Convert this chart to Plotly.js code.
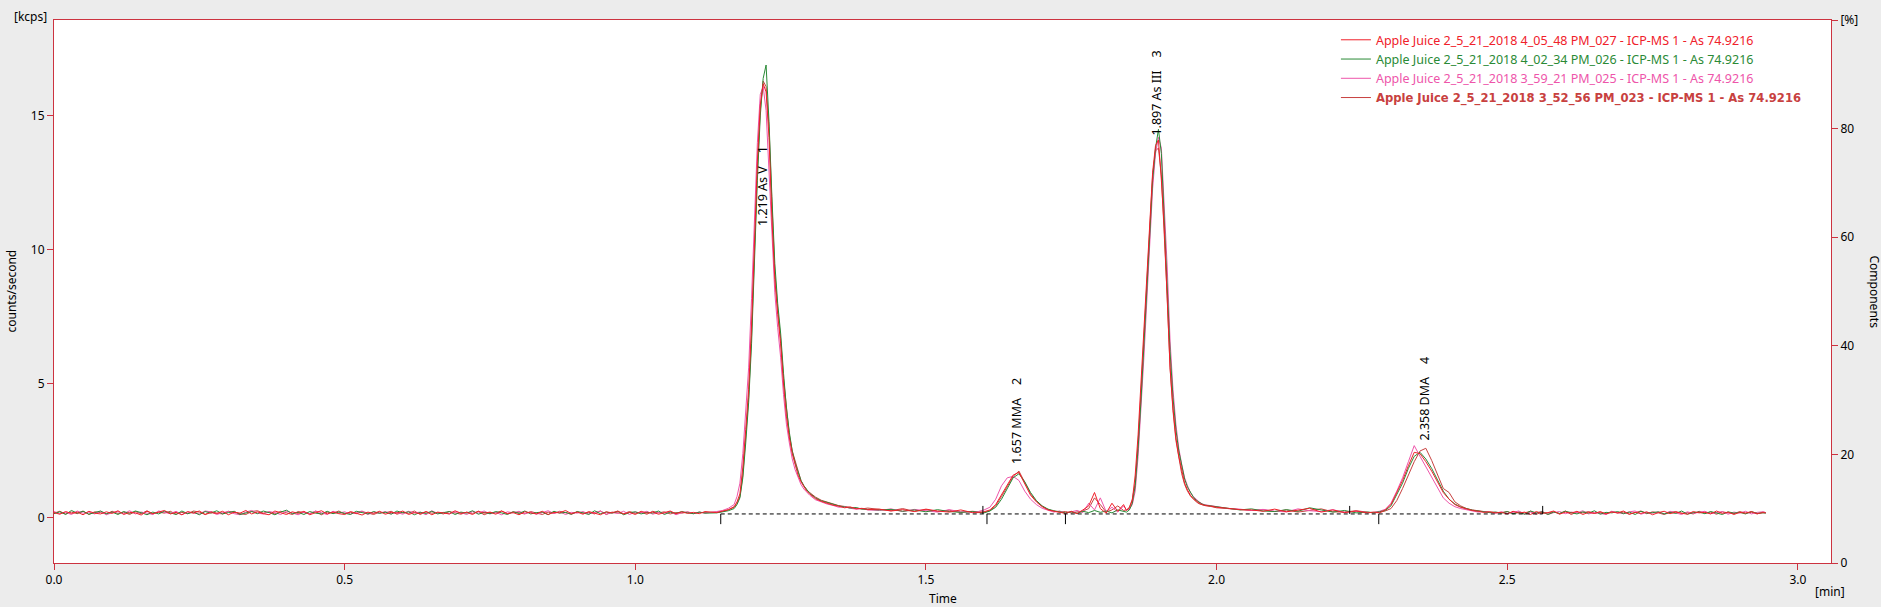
<!DOCTYPE html>
<html>
<head>
<meta charset="utf-8">
<script src="https://cdn.plot.ly/plotly-3.0.1.min.js"></script>
<style>
html,body{margin:0;padding:0;background:#ececec;}
#chart{width:1881px;height:607px;}
</style>
</head>
<body>
<div id="chart"></div>
<script>
// ---- time axis (min) ----
const time = [
0.00,0.01,0.02,0.03,0.04,0.05,0.06,0.07,0.08,0.09,
0.10,0.11,0.12,0.13,0.14,0.15,0.16,0.17,0.18,0.19,
0.20,0.21,0.22,0.23,0.24,0.25,0.26,0.27,0.28,0.29,
0.30,0.31,0.32,0.33,0.34,0.35,0.36,0.37,0.38,0.39,
0.40,0.41,0.42,0.43,0.44,0.45,0.46,0.47,0.48,0.49,
0.50,0.51,0.52,0.53,0.54,0.55,0.56,0.57,0.58,0.59,
0.60,0.61,0.62,0.63,0.64,0.65,0.66,0.67,0.68,0.69,
0.70,0.71,0.72,0.73,0.74,0.75,0.76,0.77,0.78,0.79,
0.80,0.81,0.82,0.83,0.84,0.85,0.86,0.87,0.88,0.89,
0.90,0.91,0.92,0.93,0.94,0.95,0.96,0.97,0.98,0.99,
1.00,1.01,1.02,1.03,1.04,1.05,1.06,1.07,1.08,1.09,
1.10,1.11,1.12,
1.14,1.15,1.16,1.17,
1.175,1.18,1.185,1.19,1.195,1.20,1.205,1.21,1.215,1.22,
1.225,1.23,1.235,1.24,1.245,1.25,1.255,1.26,1.265,1.27,
1.275,1.28,1.285,1.29,1.295,1.30,
1.31,1.32,1.33,1.34,1.35,1.36,1.37,1.38,1.39,1.40,
1.42,1.44,1.46,1.48,1.50,1.52,1.54,1.56,1.58,
1.59,1.60,1.61,1.62,1.63,1.64,1.65,1.66,1.67,1.68,
1.69,1.70,1.71,1.72,1.73,1.74,1.75,1.76,1.77,1.78,
1.79,1.80,1.81,1.82,1.83,1.84,
1.845,1.85,1.855,1.86,1.865,1.87,1.875,1.88,1.885,1.89,
1.895,1.90,1.905,1.91,1.915,1.92,1.925,1.93,1.935,1.94,
1.945,1.95,1.955,1.96,1.965,1.97,1.975,1.98,
1.99,2.00,2.02,2.04,2.06,2.08,2.10,2.12,2.14,2.16,
2.18,2.20,2.22,2.24,2.26,
2.27,2.28,2.29,2.30,2.31,2.32,2.33,2.34,2.35,2.36,
2.37,2.38,2.39,2.40,2.41,2.42,2.43,2.44,2.45,2.46,
2.47,2.48,
2.49,2.50,2.51,2.52,2.53,2.54,2.55,2.56,2.57,2.58,
2.59,2.60,2.61,2.62,2.63,2.64,2.65,2.66,2.67,2.68,
2.69,2.70,2.71,2.72,2.73,2.74,2.75,2.76,2.77,2.78,
2.79,2.80,2.81,2.82,2.83,2.84,2.85,2.86,2.87,2.88,
2.89,2.90,2.91,2.92,2.93,2.94,
2.945
];

// ---- counts/second [kcps] ----
const run027 = [
0.20,0.14,0.24,0.17,0.22,0.12,0.25,0.18,0.15,0.23,
0.17,0.27,0.13,0.21,0.19,0.11,0.25,0.16,0.22,0.28,
0.15,0.21,0.12,0.24,0.18,0.26,0.13,0.20,0.17,0.25,
0.12,0.22,0.18,0.28,0.15,0.23,0.16,0.12,0.26,0.19,
0.13,0.23,0.17,0.25,0.12,0.20,0.27,0.15,0.22,0.16,
0.13,0.24,0.18,0.11,0.22,0.17,0.25,0.14,0.21,0.18,
0.26,0.13,0.20,0.16,0.24,0.12,0.22,0.19,0.15,0.27,
0.17,0.21,0.13,0.25,0.18,0.22,0.14,0.26,0.16,0.20,
0.12,0.23,0.18,0.15,0.25,0.13,0.21,0.19,0.28,0.16,
0.22,0.14,0.24,0.17,0.12,0.23,0.19,0.26,0.15,0.21,
0.13,0.25,0.18,0.22,0.14,0.20,0.26,0.16,0.23,0.17,
0.21,0.16,0.24,
0.20,0.26,0.31,0.42,
0.60,0.90,1.90,3.30,4.80,7.20,10.3,13.3,15.4,16.2,
15.9,14.2,11.2,8.90,7.60,6.50,5.00,3.80,3.00,2.40,
2.00,1.60,1.35,1.15,1.00,0.90,
0.72,0.62,0.55,0.48,0.44,0.38,0.41,0.34,0.36,0.31,
0.33,0.26,0.31,0.24,0.33,0.26,0.22,0.30,0.20,
0.20,0.23,0.30,0.50,0.85,1.25,1.60,1.70,1.25,0.85,
0.60,0.42,0.30,0.26,0.21,0.17,0.25,0.16,0.30,0.45,
0.95,0.35,0.18,0.55,0.25,0.50,
0.28,0.38,0.65,1.60,3.10,5.00,6.80,8.80,10.9,12.9,
13.9,14.1,12.6,10.8,8.20,5.60,4.10,3.00,2.30,1.75,
1.30,1.05,0.85,0.72,0.62,0.55,0.50,0.47,
0.44,0.40,0.36,0.31,0.30,0.25,0.33,0.23,0.29,0.36,
0.22,0.30,0.20,0.26,0.19,
0.22,0.19,0.30,0.50,0.95,1.40,1.95,2.45,2.40,2.10,
1.75,1.35,0.95,0.70,0.50,0.40,0.33,0.28,0.25,0.21,
0.23,0.19,
0.21,0.15,0.25,0.18,0.22,0.13,0.24,0.17,0.20,0.26,
0.14,0.22,0.18,0.25,0.13,0.21,0.17,0.24,0.15,0.22,
0.19,0.26,0.14,0.21,0.17,0.23,0.12,0.20,0.25,0.16,
0.22,0.18,0.14,0.24,0.19,0.21,0.15,0.26,0.17,0.22,
0.13,0.21,0.18,0.24,0.16,0.20,
0.19
];

const run026 = [
0.16,0.23,0.13,0.28,0.18,0.25,0.14,0.21,0.26,0.16,
0.22,0.13,0.24,0.17,0.26,0.20,0.12,0.22,0.15,0.25,
0.18,0.13,0.26,0.16,0.22,0.12,0.24,0.18,0.27,0.15,
0.20,0.25,0.13,0.18,0.24,0.16,0.26,0.20,0.12,0.22,
0.29,0.16,0.21,0.13,0.24,0.18,0.15,0.25,0.16,0.22,
0.18,0.13,0.25,0.20,0.15,0.24,0.17,0.22,0.14,0.26,
0.19,0.23,0.12,0.21,0.17,0.25,0.15,0.20,0.24,0.13,
0.22,0.18,0.27,0.14,0.21,0.16,0.24,0.19,0.13,0.23,
0.17,0.26,0.15,0.20,0.22,0.12,0.25,0.18,0.21,0.14,
0.24,0.19,0.13,0.27,0.16,0.22,0.18,0.25,0.12,0.20,
0.23,0.15,0.21,0.18,0.26,0.13,0.22,0.17,0.24,0.19,
0.16,0.22,0.18,
0.19,0.22,0.27,0.35,
0.50,0.75,1.50,2.80,4.30,6.50,9.60,12.6,15.0,16.4,
16.9,14.8,12.0,9.50,8.00,6.90,5.40,4.10,3.20,2.50,
2.05,1.70,1.40,1.20,1.05,0.92,
0.75,0.64,0.58,0.50,0.45,0.41,0.37,0.39,0.33,0.32,
0.30,0.32,0.25,0.30,0.23,0.31,0.24,0.21,0.24,
0.21,0.19,0.26,0.40,0.70,1.10,1.50,1.65,1.35,0.95,
0.65,0.45,0.33,0.27,0.23,0.19,0.23,0.17,0.25,0.20,
0.28,0.21,0.26,0.19,0.30,0.24,
0.22,0.30,0.55,1.20,2.60,4.40,6.50,8.50,10.5,12.6,
13.8,14.5,13.6,11.3,9.00,6.20,4.50,3.30,2.50,1.90,
1.45,1.15,0.95,0.78,0.66,0.58,0.52,0.48,
0.45,0.41,0.37,0.30,0.34,0.26,0.24,0.31,0.25,0.38,
0.30,0.22,0.28,0.19,0.22,
0.20,0.23,0.28,0.45,0.85,1.30,1.85,2.30,2.45,2.20,
1.85,1.40,1.00,0.70,0.52,0.41,0.34,0.29,0.26,0.23,
0.20,0.22,
0.18,0.24,0.16,0.21,0.14,0.26,0.19,0.23,0.13,0.22,
0.17,0.25,0.20,0.15,0.23,0.18,0.27,0.14,0.21,0.19,
0.24,0.16,0.22,0.13,0.25,0.18,0.20,0.23,0.15,0.21,
0.17,0.26,0.14,0.20,0.22,0.16,0.24,0.19,0.13,0.23,
0.18,0.21,0.15,0.24,0.17,0.19,
0.18
];

const run025 = [
0.24,0.16,0.21,0.13,0.26,0.18,0.22,0.15,0.25,0.12,
0.20,0.24,0.16,0.27,0.15,0.22,0.18,0.13,0.26,0.20,
0.16,0.25,0.12,0.22,0.18,0.15,0.26,0.23,0.13,0.20,
0.24,0.16,0.12,0.22,0.28,0.18,0.15,0.24,0.20,0.13,
0.25,0.18,0.12,0.22,0.16,0.26,0.20,0.13,0.25,0.18,
0.23,0.15,0.20,0.26,0.13,0.22,0.18,0.24,0.16,0.21,
0.14,0.25,0.19,0.22,0.12,0.27,0.17,0.21,0.15,0.23,
0.20,0.13,0.24,0.18,0.26,0.15,0.21,0.12,0.23,0.19,
0.25,0.16,0.22,0.14,0.20,0.27,0.17,0.23,0.13,0.21,
0.18,0.24,0.15,0.21,0.26,0.14,0.20,0.17,0.25,0.13,
0.22,0.19,0.25,0.14,0.21,0.17,0.24,0.12,0.20,0.23,
0.17,0.22,0.18,
0.24,0.28,0.36,0.50,
0.80,1.30,2.40,3.90,5.60,8.20,11.2,14.0,15.8,16.1,
15.2,13.0,10.4,8.40,7.10,6.00,4.60,3.50,2.80,2.20,
1.80,1.50,1.25,1.08,0.95,0.85,
0.68,0.60,0.52,0.47,0.40,0.42,0.36,0.33,0.35,0.30,
0.28,0.34,0.24,0.32,0.27,0.22,0.31,0.23,0.22,
0.24,0.30,0.40,0.70,1.20,1.50,1.55,1.40,1.00,0.70,
0.50,0.36,0.28,0.22,0.26,0.18,0.23,0.28,0.20,0.55,
0.30,0.75,0.24,0.40,0.22,0.45,
0.30,0.33,0.50,1.00,2.30,4.00,6.00,8.10,10.2,12.3,
13.6,14.2,13.8,11.8,9.40,6.60,4.80,3.50,2.60,2.00,
1.50,1.20,0.95,0.80,0.68,0.60,0.53,0.49,
0.46,0.42,0.35,0.33,0.28,0.32,0.25,0.23,0.34,0.27,
0.24,0.31,0.21,0.25,0.20,
0.21,0.25,0.32,0.55,1.00,1.50,2.10,2.70,2.30,1.90,
1.50,1.10,0.75,0.55,0.42,0.35,0.30,0.26,0.22,0.24,
0.21,0.18,
0.23,0.17,0.21,0.26,0.14,0.22,0.18,0.25,0.13,0.20,
0.24,0.16,0.22,0.19,0.27,0.15,0.21,0.18,0.13,0.24,
0.20,0.16,0.23,0.26,0.14,0.21,0.18,0.22,0.15,0.25,
0.19,0.13,0.23,0.17,0.21,0.25,0.16,0.20,0.24,0.14,
0.22,0.18,0.25,0.15,0.21,0.23,
0.20
];

const run023 = [
0.18,0.25,0.15,0.22,0.16,0.26,0.13,0.23,0.20,0.15,
0.25,0.17,0.22,0.13,0.24,0.16,0.27,0.15,0.22,0.18,
0.25,0.14,0.21,0.16,0.26,0.22,0.13,0.24,0.18,0.15,
0.25,0.20,0.16,0.13,0.24,0.27,0.18,0.22,0.15,0.25,
0.18,0.13,0.24,0.20,0.16,0.25,0.12,0.22,0.18,0.26,
0.15,0.21,0.16,0.24,0.18,0.13,0.22,0.19,0.25,0.14,
0.21,0.17,0.26,0.13,0.23,0.18,0.20,0.15,0.24,0.19,
0.14,0.22,0.17,0.25,0.12,0.21,0.19,0.26,0.16,0.23,
0.20,0.15,0.24,0.18,0.13,0.22,0.17,0.25,0.19,0.14,
0.23,0.18,0.21,0.15,0.26,0.13,0.22,0.20,0.16,0.24,
0.17,0.21,0.14,0.25,0.19,0.23,0.15,0.20,0.18,0.22,
0.16,0.21,0.20,
0.22,0.24,0.30,0.40,
0.55,0.80,1.60,3.00,4.50,6.80,9.90,13.0,15.2,16.3,
16.1,14.6,11.8,9.20,7.80,6.70,5.20,4.00,3.10,2.50,
2.10,1.70,1.40,1.20,1.05,0.95,
0.78,0.66,0.60,0.52,0.46,0.43,0.39,0.36,0.34,0.37,
0.32,0.27,0.35,0.25,0.31,0.24,0.29,0.21,0.25,
0.22,0.21,0.27,0.45,0.80,1.20,1.55,1.75,1.30,0.90,
0.62,0.44,0.32,0.25,0.22,0.24,0.19,0.23,0.26,0.35,
0.75,0.50,0.22,0.30,0.45,0.28,
0.30,0.40,0.70,1.30,2.80,4.70,6.80,8.80,10.7,12.8,
13.7,13.8,12.8,10.6,8.30,5.60,4.00,2.90,2.20,1.65,
1.25,1.00,0.82,0.70,0.60,0.53,0.49,0.46,
0.43,0.38,0.35,0.31,0.28,0.31,0.24,0.30,0.22,0.28,
0.34,0.23,0.22,0.27,0.20,
0.19,0.21,0.26,0.35,0.65,1.10,1.60,2.10,2.50,2.60,
2.15,1.65,1.10,0.95,0.60,0.45,0.35,0.30,0.26,0.24,
0.22,0.20,
0.20,0.24,0.16,0.22,0.19,0.25,0.14,0.21,0.18,0.23,
0.16,0.26,0.13,0.22,0.19,0.24,0.17,0.21,0.15,0.25,
0.18,0.22,0.14,0.20,0.26,0.16,0.23,0.19,0.13,0.21,
0.24,0.17,0.20,0.15,0.25,0.18,0.22,0.14,0.23,0.19,
0.16,0.24,0.18,0.21,0.15,0.22,
0.20
];

const seriesNames = [
  "Apple Juice 2_5_21_2018 4_05_48 PM_027 - ICP-MS 1 - As 74.9216",
  "Apple Juice 2_5_21_2018 4_02_34 PM_026 - ICP-MS 1 - As 74.9216",
  "Apple Juice 2_5_21_2018 3_59_21 PM_025 - ICP-MS 1 - As 74.9216",
  "Apple Juice 2_5_21_2018 3_52_56 PM_023 - ICP-MS 1 - As 74.9216"
];

// ---- peak labels ----
const peakTimes = [1.219, 1.657, 1.897, 2.358];
const peakNames = ["As V", "MMA", "As III", "DMA"];
const peakNumbers = ["1", "2", "3", "4"];
const peakLabelBase = [10.8, 1.95, 14.2, 2.8];

// ---- integration baseline & markers ----
const baselineLevel = 0.15;
const baselineStart = 1.147;
const baselineEnd = 2.561;
const markersDown = [1.147, 1.605, 1.740, 2.279];
const markersUp = [1.598, 2.229, 2.561];

// ---- axis ticks ----
const xTicks = [0.0, 0.5, 1.0, 1.5, 2.0, 2.5, 3.0];
const yTicks = [0, 5, 10, 15];
const y2Ticks = [0, 20, 40, 60, 80, 100];
const y2TickText = ["0", "20", "40", "60", "80", "[%]"];

// ---------------------------------------------------------------
const FRAME = "#cc3340";
const FONT = "Noto Sans, Liberation Sans, sans-serif";
const colors = ["#f0202a", "#2a8a36", "#ee55aa", "#c8413f"];
const values = [run027, run026, run025, run023];

const traces = [];
// draw order: 023 first, 027 on top
for (let i = 3; i >= 0; i--) {
  const label = i === 3
    ? '<span style="color:' + colors[i] + ';font-family:DejaVu Sans;font-size:11.6px;font-weight:bold">' + seriesNames[i] + '</span>'
    : '<span style="color:' + colors[i] + '">' + seriesNames[i] + '</span>';
  traces.push({
    type: "scatter", mode: "lines",
    x: time, y: values[i],
    name: label,
    line: { color: colors[i], width: 1 },
    hoverinfo: "x+y"
  });
}

// integration baseline
traces.push({
  type: "scatter", mode: "lines",
  x: [baselineStart, baselineEnd], y: [baselineLevel, baselineLevel],
  line: { color: "#000", width: 1, dash: "4px,3px" },
  showlegend: false, hoverinfo: "skip"
});
const DOWN = 0.38, UP = 0.30;
const mx = [], my = [];
markersDown.forEach(t => { mx.push(t, t, null); my.push(baselineLevel, baselineLevel - DOWN, null); });
markersUp.forEach(t => { mx.push(t, t, null); my.push(baselineLevel, baselineLevel + UP, null); });
traces.push({
  type: "scatter", mode: "lines", x: mx, y: my,
  line: { color: "#000", width: 1 }, showlegend: false, hoverinfo: "skip"
});

const annotations = [];
const NB = "\u00a0";
for (let i = 0; i < peakTimes.length; i++) {
  annotations.push({
    x: peakTimes[i], y: peakLabelBase[i], xref: "x", yref: "y",
    text: peakTimes[i].toFixed(3) + " " + peakNames[i] + NB + NB + NB + NB + peakNumbers[i],
    textangle: -90, showarrow: false, xanchor: "center", yanchor: "bottom",
    font: { family: FONT, size: 12.5, color: "#000" }
  });
}
annotations.push(
  { xref: "paper", yref: "paper", x: 0, y: 1, xshift: -24, yshift: 4, text: "[kcps]",
    showarrow: false, xanchor: "center", yanchor: "middle", font: { family: FONT, size: 12, color: "#000" } },
  { xref: "paper", yref: "paper", x: 1, y: 0, xshift: -1, yshift: -28, text: "[min]",
    showarrow: false, xanchor: "center", yanchor: "middle", font: { family: FONT, size: 12, color: "#000" } },
  { xref: "paper", yref: "paper", x: 0.5, y: 0, yshift: -35, text: "Time",
    showarrow: false, xanchor: "center", yanchor: "middle", font: { family: FONT, size: 12, color: "#000" } },
  { xref: "paper", yref: "paper", x: 0, y: 0.5, xshift: -43, text: "counts/second", textangle: -90,
    showarrow: false, xanchor: "center", yanchor: "middle", font: { family: FONT, size: 12, color: "#000" } },
  { xref: "paper", yref: "paper", x: 1, y: 0.5, xshift: 43, text: "Components", textangle: 90,
    showarrow: false, xanchor: "center", yanchor: "middle", font: { family: FONT, size: 12, color: "#000" } }
);

const layout = {
  width: 1881, height: 607,
  paper_bgcolor: "#ececec", plot_bgcolor: "#ffffff",
  margin: { l: 54, r: 50, t: 20, b: 44, pad: 0 },
  font: { family: FONT, size: 12, color: "#000" },
  showlegend: true,
  legend: {
    x: 0.7214, y: 0.9905, xanchor: "left", yanchor: "top",
    bgcolor: "rgba(0,0,0,0)", borderwidth: 0,
    traceorder: "reversed",
    font: { family: FONT, size: 12.5, color: "#000" }
  },
  xaxis: {
    range: [0, 3.057], tickvals: xTicks, tickformat: ".1f",
    showline: true, linecolor: FRAME, linewidth: 1, mirror: true,
    ticks: "outside", ticklen: 6, tickcolor: FRAME, tickwidth: 1,
    showgrid: false, zeroline: false,
    tickfont: { family: FONT, size: 12, color: "#000" }
  },
  yaxis: {
    range: [-1.68, 18.58], tickvals: yTicks,
    showline: true, linecolor: FRAME, linewidth: 1, mirror: true,
    ticks: "outside", ticklen: 6, tickcolor: FRAME, tickwidth: 1,
    showgrid: false, zeroline: false,
    tickfont: { family: FONT, size: 12, color: "#000" }
  },
  yaxis2: {
    overlaying: "y", side: "right", anchor: "x",
    range: [0, 100], tickvals: y2Ticks, ticktext: y2TickText,
    showline: true, linecolor: FRAME, linewidth: 1,
    ticks: "outside", ticklen: 6, tickcolor: FRAME, tickwidth: 1,
    showgrid: false, zeroline: false,
    tickfont: { family: FONT, size: 12, color: "#000" }
  },
  annotations: annotations
};

// keep right axis alive with an invisible trace
traces.push({ type: "scatter", mode: "lines", x: [0], y: [0], yaxis: "y2",
  showlegend: false, hoverinfo: "skip", line: { width: 0 }, opacity: 0 });

Plotly.newPlot("chart", traces, layout, { displayModeBar: false, staticPlot: true });
</script>
</body>
</html>
